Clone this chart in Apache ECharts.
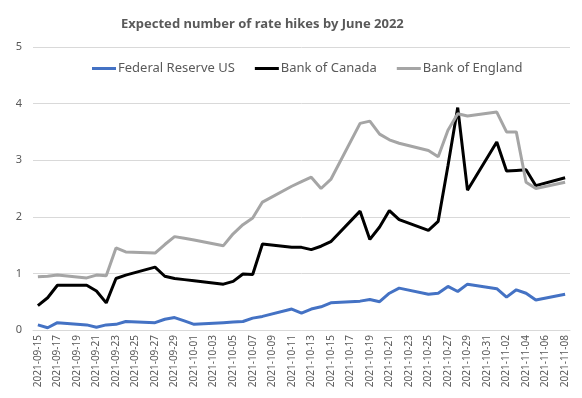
<!DOCTYPE html>
<html>
<head>
<meta charset="utf-8">
<script src="https://cdn.jsdelivr.net/npm/echarts@6/dist/echarts.min.js"></script>
<style>
	html, body { margin: 0; padding: 0; background: #fff; }
	#main { width: 582px; height: 398px; }
</style>
</head>
<body>
<div id="main"></div>
<script>
// one entry per calendar day, weekends have no quote (null)
var days = [
	'2021-09-15', '2021-09-16', '2021-09-17', '2021-09-18', '2021-09-19', '2021-09-20', '2021-09-21',
	'2021-09-22', '2021-09-23', '2021-09-24', '2021-09-25', '2021-09-26', '2021-09-27', '2021-09-28',
	'2021-09-29', '2021-09-30', '2021-10-01', '2021-10-02', '2021-10-03', '2021-10-04', '2021-10-05',
	'2021-10-06', '2021-10-07', '2021-10-08', '2021-10-09', '2021-10-10', '2021-10-11', '2021-10-12',
	'2021-10-13', '2021-10-14', '2021-10-15', '2021-10-16', '2021-10-17', '2021-10-18', '2021-10-19',
	'2021-10-20', '2021-10-21', '2021-10-22', '2021-10-23', '2021-10-24', '2021-10-25', '2021-10-26',
	'2021-10-27', '2021-10-28', '2021-10-29', '2021-10-30', '2021-10-31', '2021-11-01', '2021-11-02',
	'2021-11-03', '2021-11-04', '2021-11-05', '2021-11-06', '2021-11-07', '2021-11-08'
];

var fedUS = [
	0.09, 0.04, 0.13, null, null, 0.09, 0.05,
	0.09, 0.10, 0.15, null, null, 0.13, 0.19,
	0.22, 0.16, 0.10, null, null, 0.13, 0.14,
	0.15, 0.21, 0.24, null, null, 0.37, 0.30,
	0.37, 0.41, 0.48, null, null, 0.51, 0.54,
	0.50, 0.65, 0.74, null, null, 0.63, 0.65,
	0.77, 0.68, 0.81, null, null, 0.73, 0.58,
	0.71, 0.65, 0.53, null, null, 0.63
];

var bankCanada = [
	0.43, 0.57, 0.79, null, null, 0.79, 0.69,
	0.48, 0.91, 0.97, null, null, 1.11, 0.95,
	0.91, 0.89, 0.87, null, null, 0.81, 0.86,
	0.99, 0.98, 1.52, null, null, 1.46, 1.46,
	1.42, 1.48, 1.56, null, null, 2.10, 1.60,
	1.82, 2.11, 1.95, null, null, 1.76, 1.92,
	2.90, 3.93, 2.47, null, null, 3.32, 2.81,
	2.82, 2.83, 2.55, null, null, 2.69
];

var bankEngland = [
	0.94, 0.95, 0.97, null, null, 0.92, 0.97,
	0.96, 1.45, 1.38, null, null, 1.36, 1.51,
	1.65, 1.62, 1.59, null, null, 1.49, 1.70,
	1.86, 1.98, 2.26, null, null, 2.54, 2.62,
	2.70, 2.50, 2.66, null, null, 3.65, 3.69,
	3.46, 3.36, 3.30, null, null, 3.17, 3.06,
	3.53, 3.82, 3.78, null, null, 3.85, 3.50,
	3.50, 2.61, 2.50, null, null, 2.61
];

var chart = echarts.init(document.getElementById('main'));

function lineSeries(name, data, color) {
	return {
		name: name,
		type: 'line',
		data: data,
		connectNulls: true,
		showSymbol: false,
		symbol: 'none',
		smooth: false,
		lineStyle: { color: color, width: 3 },
		itemStyle: { color: color },
		emphasis: { disabled: true }
	};
}

var option = {
	animation: false,
	textStyle: { fontFamily: 'Noto Sans' },
	title: {
		text: 'Expected number of rate hikes by June 2022',
		left: 116,
		top: 13,
		textStyle: {
			fontSize: 13,
			fontWeight: 'bold',
			color: '#595959',
			fontFamily: 'Noto Sans'
		}
	},
	legend: {
		top: 57,
		left: 87,
		itemWidth: 24,
		itemHeight: 3,
		itemGap: 20,
		icon: 'rect',
		textStyle: { fontSize: 13, color: '#595959', padding: [0, 0, 0, -3] },
		data: ['Federal Reserve US', 'Bank of Canada', 'Bank of England']
	},
	grid: {
		left: 33,
		right: 12,
		top: 47,
		bottom: 68
	},
	xAxis: {
		type: 'category',
		data: days,
		boundaryGap: true,
		axisTick: { show: false },
		axisLine: { lineStyle: { color: '#d9d9d9' } },
		axisLabel: {
			interval: 1,
			rotate: 90,
			fontSize: 10,
			color: '#595959',
			margin: 5
		}
	},
	yAxis: {
		type: 'value',
		min: 0,
		max: 5,
		interval: 1,
		axisLine: { show: false },
		axisTick: { show: false },
		splitLine: { lineStyle: { color: '#d9d9d9' } },
		axisLabel: { fontSize: 11, color: '#595959', margin: 11 }
	},
	series: [
		lineSeries('Federal Reserve US', fedUS, '#4472C4'),
		lineSeries('Bank of Canada', bankCanada, '#000000'),
		lineSeries('Bank of England', bankEngland, '#A5A5A5')
	]
};
chart.setOption(option, true);
</script>
</body>
</html>
